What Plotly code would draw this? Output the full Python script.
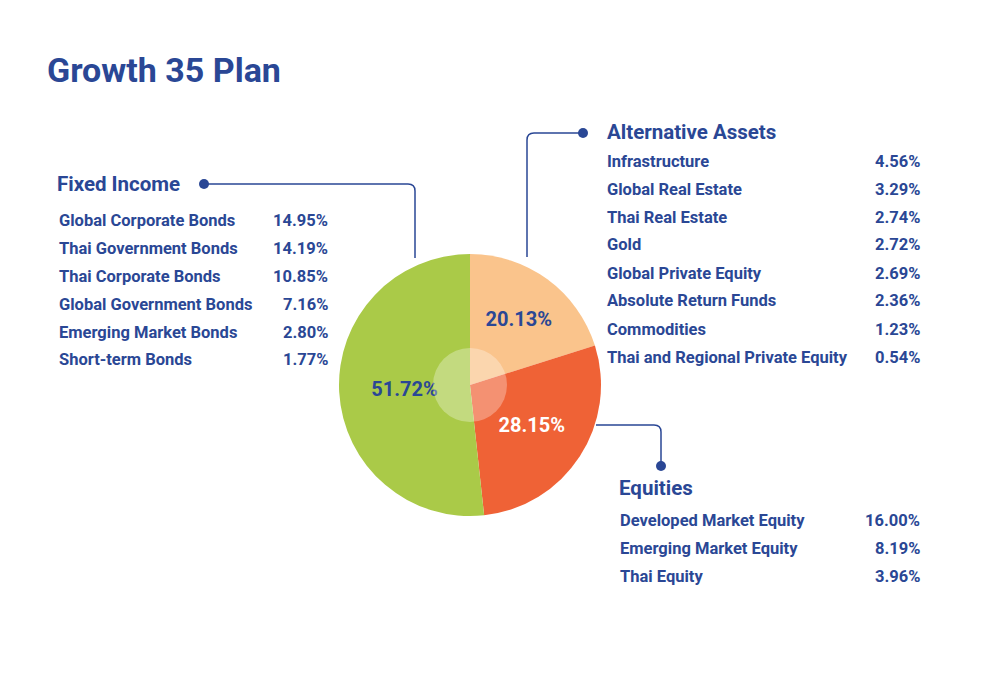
import plotly.graph_objects as go

# data
title = "Growth 35 Plan"
group_names = ["Alternative Assets", "Equities", "Fixed Income"]

fixed_income_names = ["Global Corporate Bonds", "Thai Government Bonds", "Thai Corporate Bonds",
                      "Global Government Bonds", "Emerging Market Bonds", "Short-term Bonds"]
fixed_income_values = [14.95, 14.19, 10.85, 7.16, 2.80, 1.77]

alternative_names = ["Infrastructure", "Global Real Estate", "Thai Real Estate", "Gold",
                     "Global Private Equity", "Absolute Return Funds", "Commodities",
                     "Thai and Regional Private Equity"]
alternative_values = [4.56, 3.29, 2.74, 2.72, 2.69, 2.36, 1.23, 0.54]

equities_names = ["Developed Market Equity", "Emerging Market Equity", "Thai Equity"]
equities_values = [16.00, 8.19, 3.96]

group_totals = [round(sum(alternative_values), 2), round(sum(equities_values), 2),
                round(sum(fixed_income_values), 2)]

W, H = 1000, 700
NAVY = "#2A4795"
FONT = "Roboto"


def px(x, y):
    return x / W, 1 - y / H


def path(points):
    # points are pixel coords, Q for rounded corner
    out = []
    for cmd, *xy in points:
        coords = []
        for i in range(0, len(xy), 2):
            a, b = px(xy[i], xy[i + 1])
            coords.append(f"{a:.4f},{b:.4f}")
        out.append(cmd + " " + " ".join(coords))
    return " ".join(out)


fig = go.Figure()

x0, y0 = px(339, 516)
x1, y1 = px(601, 254)
fig.add_trace(go.Pie(
    values=group_totals,
    labels=group_names,
    text=[f"{v:.2f}%" for v in group_totals],
    textinfo="text",
    textposition="inside",
    insidetextorientation="horizontal",
    textfont=dict(family=FONT, size=20, color=[NAVY, "white", NAVY], weight="bold"),
    marker=dict(colors=["#FAC48C", "#EF6236", "#AACA48"], line=dict(width=0)),
    sort=False,
    direction="clockwise",
    rotation=0,
    showlegend=False,
    hoverinfo="label+text",
    domain=dict(x=[x0, x1], y=[y0, y1]),
))

shapes = []
# centre glow
cx0, cy0 = px(433, 422)
cx1, cy1 = px(507, 348)
shapes.append(dict(type="circle", xref="paper", yref="paper", x0=cx0, y0=cy0, x1=cx1, y1=cy1,
                   fillcolor="rgba(255,255,255,0.3)", line=dict(width=0), layer="above"))

# connector lines
lines = [
    [("M", 204, 184), ("L", 408, 184), ("Q", 415, 184, 415, 191), ("L", 415, 258)],
    [("M", 583, 133), ("L", 534, 133), ("Q", 527, 133, 527, 140), ("L", 527, 257)],
    [("M", 596, 425), ("L", 654, 425), ("Q", 661, 425, 661, 432), ("L", 661, 466)],
]
for pts in lines:
    shapes.append(dict(type="path", xref="paper", yref="paper", path=path(pts),
                       line=dict(color=NAVY, width=1.5)))

for dx, dy in [(204, 184), (583, 133), (661, 466)]:
    a0, b0 = px(dx - 5, dy + 5)
    a1, b1 = px(dx + 5, dy - 5)
    shapes.append(dict(type="circle", xref="paper", yref="paper", x0=a0, y0=b0, x1=a1, y1=b1,
                       fillcolor=NAVY, line=dict(width=0)))

annotations = []


def label(x, y, text, size, anchor="left"):
    a, b = px(x, y)
    annotations.append(dict(x=a, y=b, xref="paper", yref="paper", text=text, showarrow=False,
                            xanchor=anchor, yanchor="middle", xshift=-2 if anchor == "left" else 2,
                            font=dict(family=FONT, size=size, color=NAVY, weight="bold")))


label(47, 70, title, 34)

blocks = [
    ("Fixed Income", 57, 184, 59, 328, 220, fixed_income_names, fixed_income_values),
    ("Alternative Assets", 607, 132, 607, 920, 161, alternative_names, alternative_values),
    ("Equities", 619, 488, 620, 920, 520, equities_names, equities_values),
]
for head, hx, hy, ix, vx, iy, names, vals in blocks:
    label(hx, hy, head, 20.5)
    for i, (n, v) in enumerate(zip(names, vals)):
        label(ix, iy + 28 * i, n, 16.5)
        label(vx, iy + 28 * i, f"{v:.2f}%", 16.5, anchor="right")

fig.update_layout(
    width=W, height=H,
    margin=dict(l=0, r=0, t=0, b=0),
    paper_bgcolor="white",
    plot_bgcolor="white",
    shapes=shapes,
    annotations=annotations,
)

# page body has a default 8px margin; drop it so the figure sits at the window corner
fig.write_html("out.html", config={"displayModeBar": False},
               post_script="document.body.style.margin='0';")
